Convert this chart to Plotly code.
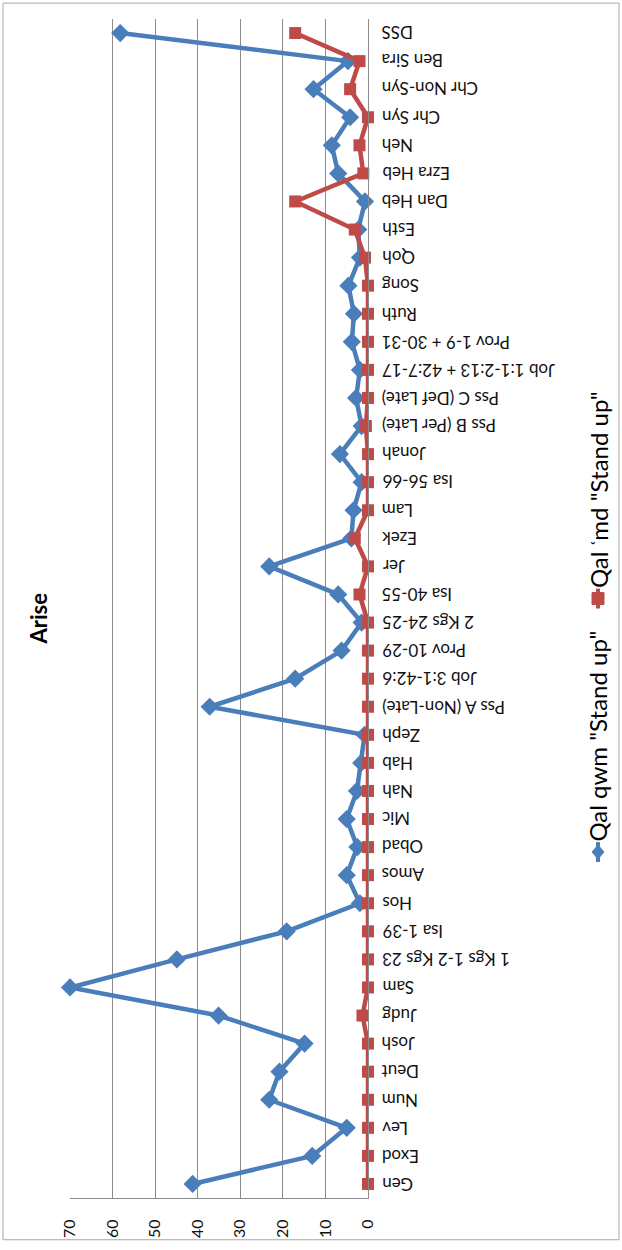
import plotly.graph_objects as go

categories = ["Gen", "Exod", "Lev", "Num", "Deut", "Josh", "Judg", "Sam",
              "1 Kgs 1-2 Kgs 23", "Isa 1-39", "Hos", "Amos", "Obad", "Mic", "Nah",
              "Hab", "Zeph", "Pss A (Non-Late)", "Job 3:1-42:6", "Prov 10-29",
              "2 Kgs 24-25", "Isa 40-55", "Jer", "Ezek", "Lam", "Isa 56-66", "Jonah",
              "Pss B (Per Late)", "Pss C (Def Late)", "Job 1:1-2:13 + 42:7-17",
              "Prov 1-9 + 30-31", "Ruth", "Song", "Qoh", "Esth", "Dan Heb", "Ezra Heb",
              "Neh", "Chr Syn", "Chr Non-Syn", "Ben Sira", "DSS"]

qwm_values = [41.2, 13.1, 5.0, 23.2, 20.8, 14.9, 35.1, 70.0, 44.9, 19.1, 1.9, 5.0,
              2.5, 5.0, 2.6, 1.6, 0.8, 37.2, 17.1, 6.2, 1.5, 7.0, 23.2, 3.9, 3.4,
              1.5, 6.6, 1.5, 2.8, 1.9, 3.8, 3.3, 4.6, 1.9, 2.3, 0.7, 7.0, 8.5, 4.2,
              12.8, 4.7, 58.2]

amd_values = [0, 0, 0, 0, 0, 0, 1.3, 0, 0, 0, 0, 0, 0, 0, 0, 0, 0, 0, 0, 0, 0,
              2.0, 0, 3.1, 0, 0, 0, 0.5, 0, 0, 0, 0, 0, 0.7, 3.1, 17.1, 1.1, 2.0,
              0, 4.2, 2.0, 17.1]

value_ticks = [0, 10, 20, 30, 40, 50, 60, 70]

series_names = ['Qal qwm "Stand up"', 'Qal \u02bfmd "Stand up"']
title_text = "Arise"

BLUE = "#4A7EBB"
RED = "#BE4B48"
GRID = "#8c8c8c"
FONT = "Lato, sans-serif"

W, H = 622, 1250
L, R, T, B = 70, 368, 19, 1205


def px2x(px):
    return (px - L) / (R - L)


def py2y(py):
    return (B - py) / (B - T)


fig = go.Figure()
fig.add_trace(go.Scatter(
    x=qwm_values, y=categories, mode="lines+markers", name=series_names[0],
    line=dict(color=BLUE, width=4.5),
    marker=dict(symbol="diamond", size=14, color=BLUE),
    cliponaxis=False, showlegend=False))
fig.add_trace(go.Scatter(
    x=amd_values, y=categories, mode="lines+markers", name=series_names[1],
    line=dict(color=RED, width=4.5),
    marker=dict(symbol="square", size=12, color=RED),
    cliponaxis=False, showlegend=False))

annotations = []
# category labels (upside-down)
for c in categories:
    annotations.append(dict(
        x=px2x(380), xref="paper", y=c, yref="y", text=c, showarrow=False,
        xanchor="left", yanchor="middle", textangle=180,
        font=dict(family=FONT, size=17, color="#111")))

# title
annotations.append(dict(
    x=px2x(38), xref="paper", y=py2y(622), yref="paper", text="<b>%s</b>" % title_text,
    showarrow=False, xanchor="center", yanchor="middle", textangle=-90,
    font=dict(family=FONT, size=22, color="#000")))

# legend texts
legend_items = [(857, BLUE, "diamond"), (602, RED, "square")]
shapes = []
for (ym, col, sym), name in zip(legend_items, series_names):
    annotations.append(dict(
        x=px2x(598), xref="paper", y=py2y(ym - 8), yref="paper", text=name,
        showarrow=False, xanchor="center", yanchor="bottom", textangle=-90,
        font=dict(family=FONT, size=24, color="#000")))
    shapes.append(dict(type="line", xref="paper", yref="paper",
                       x0=px2x(598), x1=px2x(598), y0=py2y(ym - 10), y1=py2y(ym + 10),
                       line=dict(color=col, width=4)))
    if sym == "diamond":
        path = "M %f %f L %f %f L %f %f L %f %f Z" % (
            px2x(598), py2y(ym - 7), px2x(604), py2y(ym),
            px2x(598), py2y(ym + 7), px2x(592), py2y(ym))
        shapes.append(dict(type="path", xref="paper", yref="paper", path=path,
                           fillcolor=col, line=dict(color=col, width=1)))
    else:
        shapes.append(dict(type="rect", xref="paper", yref="paper",
                           x0=px2x(592), x1=px2x(604), y0=py2y(ym + 6), y1=py2y(ym - 6),
                           fillcolor=col, line=dict(color=col, width=1)))

# outer border
shapes.append(dict(type="rect", xref="paper", yref="paper",
                   x0=px2x(3), x1=px2x(619), y0=py2y(1247), y1=py2y(3),
                   line=dict(color="#a6a6a6", width=1), fillcolor="rgba(0,0,0,0)",
                   layer="below"))

fig.update_layout(
    width=W, height=H,
    margin=dict(l=L, r=W - R, t=T, b=H - B, pad=0),
    paper_bgcolor="white", plot_bgcolor="white",
    showlegend=False,
    annotations=annotations,
    shapes=shapes,
    xaxis=dict(range=[70, 0], tickvals=value_ticks, ticktext=[str(v) for v in value_ticks],
               tickangle=-90, showgrid=True, gridcolor=GRID, gridwidth=1,
               zeroline=False, showline=True, linecolor=GRID, linewidth=1,
               ticks="", ticklabelstandoff=14,
               tickfont=dict(family=FONT, size=16, color="#111")),
    yaxis=dict(type="category", categoryorder="array", categoryarray=categories,
               range=[-0.5, len(categories) - 0.5], showticklabels=False,
               showgrid=False, zeroline=False, showline=True, linecolor=GRID,
               linewidth=1, side="right", ticks=""),
)

fig.write_html("out.html", config={"displayModeBar": False},
               post_script="document.body.style.margin='0px';document.body.style.overflow='hidden';")
